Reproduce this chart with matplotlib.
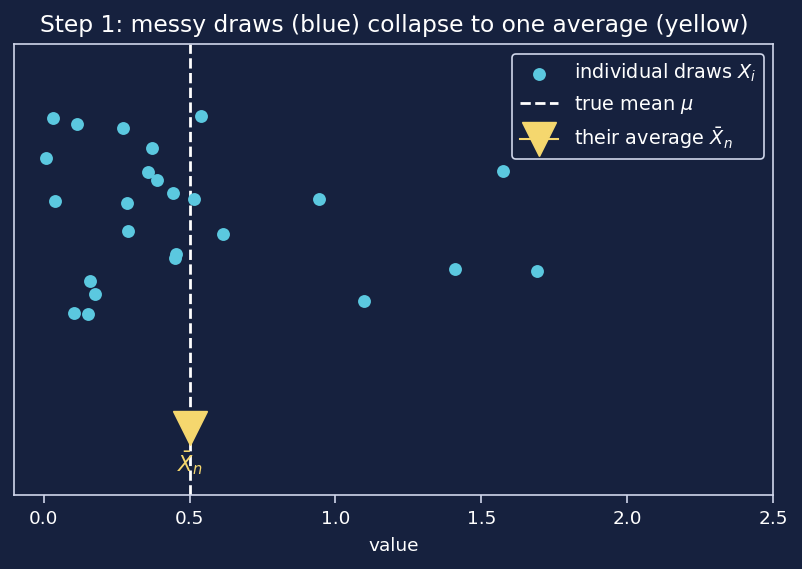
import matplotlib
matplotlib.use("Agg")
import matplotlib.pyplot as plt

# data
draws_x = [0.032, 0.114, 0.272, 0.539, 0.371, 0.008, 0.356, 0.388, 0.443, 0.514,
           0.039, 0.285, 0.942, 1.575, 0.288, 0.614, 0.454, 0.449, 0.158, 0.176,
           0.104, 0.152, 1.408, 1.692, 1.099]
draws_y = [0.837, 0.824, 0.815, 0.842, 0.771, 0.747, 0.716, 0.700, 0.671, 0.658,
           0.653, 0.649, 0.656, 0.720, 0.585, 0.580, 0.534, 0.525, 0.476, 0.445,
           0.405, 0.401, 0.501, 0.497, 0.430]
true_mean = 0.5
avg_x = 0.5
avg_y = 0.148
xticks = [0.0, 0.5, 1.0, 1.5, 2.0, 2.5]

BG = "#16213e"
BLUE = "#5bc8df"
YELLOW = "#f5d76e"
FG = "#ffffff"
SPINE = "#cfd6ea"

fig, ax = plt.subplots(figsize=(8.03, 5.69), dpi=100)
fig.patch.set_facecolor(BG)
ax.set_facecolor(BG)

ax.scatter(draws_x, draws_y, s=86, color=BLUE, zorder=3, linewidths=0,
           label=r"individual draws $X_i$")
ax.axvline(true_mean, color=FG, linestyle="--", linewidth=2.0, zorder=2,
           label=r"true mean $\mu$")
ax.plot([avg_x], [avg_y], marker="v", markersize=25, color=YELLOW, zorder=4,
        label=r"their average $\bar{X}_n$")
ax.text(avg_x, avg_y - 0.078, r"$\bar{X}_n$", color=YELLOW, ha="center",
        va="center", fontsize=15)

ax.set_xlim(-0.1, 2.5)
ax.set_ylim(0, 1)
ax.set_yticks([])
ax.set_xticks(xticks)
ax.set_xticklabels([f"{t:.1f}" for t in xticks])
ax.tick_params(axis="x", colors=FG, labelsize=13.3, length=6, width=1.2,
               color=SPINE, pad=5)
for sp in ax.spines.values():
    sp.set_color(SPINE)
    sp.set_linewidth(1.2)
ax.set_xlabel("value", color=FG, fontsize=13.3, labelpad=6)
ax.set_title("Step 1: messy draws (blue) collapse to one average (yellow)",
             color=FG, fontsize=16.8, pad=9)

leg = ax.legend(loc="upper right", fontsize=13.9, facecolor=BG, edgecolor=SPINE,
                framealpha=1, labelcolor=FG)
leg.get_frame().set_linewidth(1.2)

fig.subplots_adjust(left=0.018, right=0.963, top=0.922, bottom=0.13)
fig.savefig("out.png", dpi=100, facecolor=BG)
